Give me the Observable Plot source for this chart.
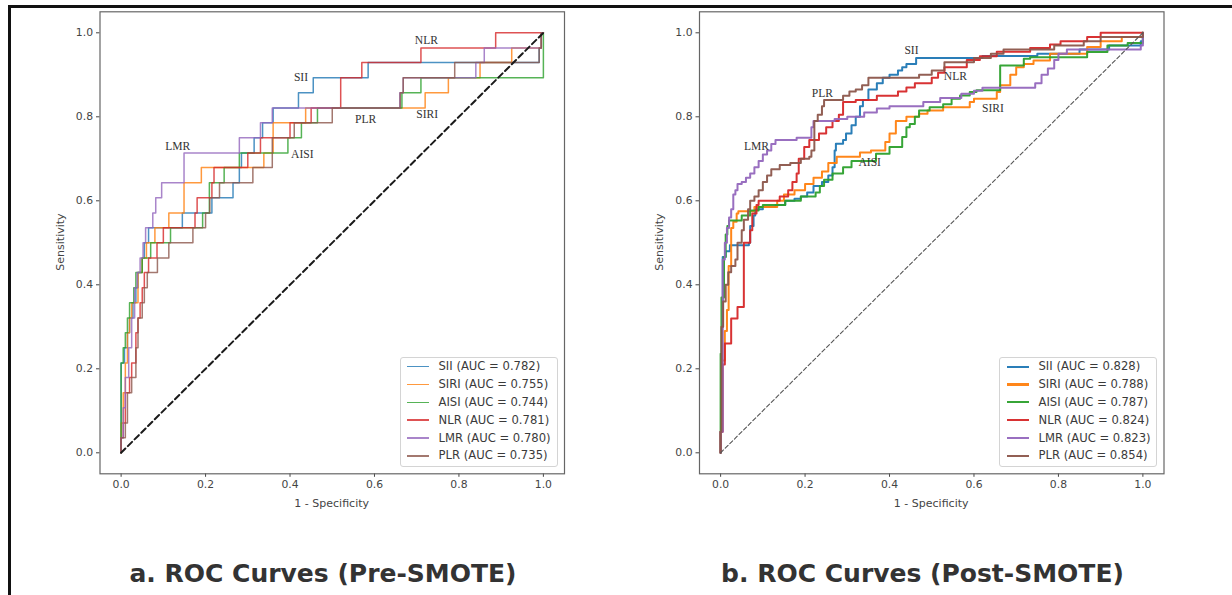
<!DOCTYPE html>
<html>
<head>
<meta charset="utf-8">
<script src="https://cdn.jsdelivr.net/npm/d3@7"></script>
<script src="https://cdn.jsdelivr.net/npm/@observablehq/plot@0.6"></script>
<style>
html, body { margin: 0; padding: 0; background: #fff; }
#root { position: relative; width: 1232px; height: 595px; overflow: hidden; background: #fff; font-family: "DejaVu Sans", sans-serif; }
.panel { position: absolute; top: 0; }
.bline { position: absolute; background: #111; }
.title { position: absolute; font: bold 25px "DejaVu Sans", sans-serif; color: #333; white-space: nowrap; transform: translate(-50%, -50%); line-height: 25px; }
.xlabel { position: absolute; font-size: 11px; color: #444; white-space: nowrap; transform: translate(-50%, -50%); line-height: 13px; }
.ylabel { position: absolute; font-size: 11px; color: #444; white-space: nowrap; transform: translate(-50%, -50%) rotate(-90deg); line-height: 13px; }
.legend { position: absolute; box-sizing: border-box; border: 1px solid #d4d4d4; border-radius: 3px; background: rgba(255,255,255,0.85); }
.legend .sw { position: absolute; }
.legend .lt { position: absolute; font-size: 11.6px; color: #3a3a3a; white-space: nowrap; line-height: 14px; }
</style>
</head>
<body>
<div id="root"></div>
<script>
// ---------- data ----------
const series = ["SII", "SIRI", "AISI", "NLR", "LMR", "PLR"];
const colors = ["#1f77b4", "#ff7f0e", "#2ca02c", "#d62728", "#9467bd", "#8c564b"];
const aucPre  = ["0.782", "0.755", "0.744", "0.781", "0.780", "0.735"];
const aucPost = ["0.828", "0.788", "0.787", "0.824", "0.823", "0.854"];
const tickValues = [0, 0.2, 0.4, 0.6, 0.8, 1.0];
const chance = [0, 1];

// Pre-SMOTE ROC points (1 - specificity, sensitivity)
const preSII_fpr  = [0,0,0.008,0.015,0.02,0.028,0.035,0.04,0.05,0.055,0.065,0.145,0.215,0.265,0.28,0.285,0.315,0.335,0.36,0.42,0.455,0.585,0.99,0.995,1];
const preSII_tpr  = [0,0.214,0.25,0.286,0.321,0.357,0.393,0.429,0.464,0.5,0.536,0.571,0.607,0.643,0.679,0.714,0.75,0.786,0.821,0.857,0.893,0.929,0.964,1,1];
const preSIRI_fpr = [0,0,0.005,0.01,0.015,0.02,0.025,0.04,0.05,0.06,0.08,0.113,0.149,0.19,0.338,0.36,0.437,0.72,0.775,0.85,0.925,0.995,1];
const preSIRI_tpr = [0,0.071,0.143,0.214,0.286,0.321,0.357,0.429,0.464,0.5,0.536,0.571,0.643,0.679,0.714,0.786,0.821,0.857,0.893,0.929,0.964,1,1];
const preAISI_fpr = [0,0,0.005,0.01,0.015,0.02,0.03,0.035,0.05,0.07,0.117,0.193,0.209,0.244,0.28,0.395,0.427,0.465,0.665,0.71,1,1];
const preAISI_tpr = [0,0.214,0.25,0.286,0.321,0.357,0.393,0.429,0.464,0.5,0.536,0.571,0.643,0.679,0.714,0.75,0.786,0.821,0.857,0.893,0.893,1];
const preNLR_fpr  = [0,0,0.005,0.01,0.02,0.025,0.035,0.04,0.045,0.05,0.055,0.065,0.085,0.1,0.175,0.18,0.215,0.22,0.3,0.33,0.4,0.45,0.52,0.57,0.71,0.887,1];
const preNLR_tpr  = [0,0.036,0.071,0.143,0.179,0.214,0.286,0.321,0.357,0.393,0.429,0.464,0.5,0.536,0.571,0.607,0.643,0.679,0.714,0.75,0.786,0.821,0.893,0.929,0.964,1,1];
const preLMR_fpr  = [0,0,0.005,0.01,0.018,0.025,0.032,0.038,0.045,0.052,0.058,0.075,0.082,0.096,0.149,0.28,0.33,0.358,0.66,0.668,0.84,0.86,0.995,1];
const preLMR_tpr  = [0,0.036,0.107,0.179,0.25,0.321,0.393,0.429,0.464,0.5,0.536,0.571,0.607,0.643,0.714,0.75,0.786,0.821,0.857,0.893,0.929,0.964,1,1];
const prePLR_fpr  = [0,0,0.01,0.015,0.025,0.035,0.04,0.05,0.055,0.062,0.086,0.113,0.17,0.2,0.21,0.233,0.312,0.358,0.41,0.5,0.661,0.668,0.79,0.99,0.995,1];
const prePLR_tpr  = [0,0.036,0.071,0.143,0.179,0.25,0.321,0.357,0.393,0.429,0.464,0.5,0.536,0.571,0.607,0.643,0.679,0.75,0.786,0.821,0.857,0.893,0.929,0.964,1,1];

// Post-SMOTE ROC points
const postSII_fpr  = [0,0,0.003,0.005,0.012,0.022,0.067,0.07,0.078,0.082,0.1,0.13,0.153,0.175,0.19,0.205,0.22,0.24,0.255,0.265,0.27,0.273,0.29,0.297,0.31,0.32,0.33,0.337,0.35,0.37,0.384,0.4,0.42,0.43,0.44,0.463,0.62,0.75,0.85,0.92,0.995,1];
const postSII_tpr  = [0,0.05,0.3,0.466,0.48,0.494,0.5,0.54,0.565,0.58,0.585,0.59,0.6,0.605,0.61,0.62,0.635,0.645,0.66,0.68,0.72,0.736,0.745,0.76,0.78,0.8,0.825,0.84,0.865,0.88,0.893,0.9,0.91,0.918,0.926,0.94,0.945,0.95,0.96,0.97,0.98,1];
const postSIRI_fpr = [0,0,0.003,0.01,0.015,0.019,0.025,0.03,0.038,0.042,0.08,0.134,0.15,0.175,0.2,0.22,0.24,0.255,0.275,0.33,0.356,0.39,0.4,0.415,0.44,0.47,0.49,0.527,0.59,0.6,0.654,0.662,0.686,0.7,0.718,0.741,0.78,0.868,0.9,0.95,1];
const postSIRI_tpr = [0,0.05,0.22,0.29,0.34,0.445,0.535,0.55,0.57,0.575,0.585,0.6,0.615,0.625,0.64,0.655,0.67,0.69,0.705,0.715,0.72,0.74,0.76,0.79,0.8,0.807,0.815,0.823,0.835,0.843,0.859,0.875,0.9,0.918,0.926,0.934,0.95,0.966,0.98,0.99,1];
const postAISI_fpr = [0,0,0.002,0.008,0.012,0.016,0.02,0.05,0.07,0.09,0.1,0.153,0.19,0.225,0.235,0.245,0.265,0.29,0.31,0.368,0.4,0.43,0.44,0.448,0.46,0.47,0.495,0.527,0.547,0.567,0.59,0.606,0.662,0.718,0.733,0.868,0.916,0.964,1];
const postAISI_tpr = [0,0.236,0.37,0.466,0.52,0.54,0.553,0.565,0.577,0.585,0.59,0.6,0.61,0.62,0.635,0.65,0.665,0.68,0.695,0.712,0.728,0.752,0.775,0.783,0.8,0.815,0.823,0.83,0.843,0.851,0.859,0.863,0.922,0.938,0.942,0.954,0.97,0.976,1];
const postNLR_fpr  = [0,0,0.005,0.01,0.025,0.04,0.055,0.07,0.075,0.085,0.09,0.14,0.16,0.17,0.18,0.185,0.198,0.21,0.233,0.25,0.265,0.28,0.29,0.32,0.37,0.42,0.44,0.46,0.5,0.515,0.53,0.583,0.614,0.654,0.733,0.78,0.805,0.868,0.9,1];
const postNLR_tpr  = [0,0.05,0.21,0.26,0.32,0.347,0.5,0.53,0.57,0.59,0.6,0.61,0.625,0.645,0.665,0.7,0.728,0.745,0.76,0.775,0.79,0.805,0.835,0.84,0.85,0.86,0.87,0.88,0.893,0.905,0.918,0.935,0.944,0.955,0.964,0.972,0.98,0.99,1,1];
const postLMR_fpr  = [0,0,0.005,0.01,0.015,0.02,0.025,0.03,0.035,0.04,0.05,0.06,0.07,0.08,0.09,0.1,0.11,0.12,0.13,0.18,0.215,0.22,0.27,0.3,0.34,0.37,0.4,0.48,0.52,0.57,0.6,0.62,0.745,0.76,0.775,0.79,0.8,0.82,0.995,1];
const postLMR_tpr  = [0,0.05,0.46,0.5,0.535,0.56,0.58,0.615,0.625,0.64,0.645,0.655,0.665,0.68,0.695,0.71,0.72,0.735,0.745,0.75,0.775,0.79,0.795,0.8,0.81,0.82,0.825,0.835,0.845,0.855,0.862,0.869,0.88,0.9,0.915,0.935,0.95,0.96,0.97,1];
const postPLR_fpr  = [0,0,0.002,0.006,0.012,0.018,0.025,0.035,0.04,0.05,0.055,0.065,0.07,0.08,0.09,0.1,0.11,0.12,0.14,0.165,0.19,0.21,0.215,0.222,0.23,0.24,0.245,0.29,0.305,0.32,0.335,0.35,0.47,0.5,0.53,0.6,0.64,0.67,0.79,0.86,0.9,1];
const postPLR_tpr  = [0,0.05,0.3,0.36,0.4,0.43,0.445,0.46,0.5,0.53,0.555,0.58,0.6,0.61,0.625,0.645,0.66,0.675,0.685,0.69,0.7,0.705,0.72,0.79,0.805,0.825,0.84,0.85,0.86,0.865,0.875,0.893,0.9,0.91,0.93,0.94,0.95,0.96,0.97,0.98,0.99,1];

// curve annotations
const annPreLabels = ["NLR", "SII", "LMR", "AISI", "PLR", "SIRI"];
const annPreX = [0.723, 0.426, 0.134, 0.429, 0.579, 0.725];
const annPreY = [0.982, 0.894, 0.729, 0.71, 0.795, 0.807];
const annPostLabels = ["SII", "NLR", "PLR", "LMR", "AISI", "SIRI"];
const annPostX = [0.452, 0.556, 0.241, 0.085, 0.353, 0.645];
const annPostY = [0.958, 0.896, 0.856, 0.729, 0.692, 0.82];

const panelTitles = ["a. ROC Curves (Pre-SMOTE)", "b. ROC Curves (Post-SMOTE)"];
const xLabel = "1 - Specificity";
const yLabel = "Sensitivity";

// ---------- build ----------
const preCurves = [
  [preSII_fpr, preSII_tpr], [preSIRI_fpr, preSIRI_tpr], [preAISI_fpr, preAISI_tpr],
  [preNLR_fpr, preNLR_tpr], [preLMR_fpr, preLMR_tpr], [prePLR_fpr, prePLR_tpr]
];
const postCurves = [
  [postSII_fpr, postSII_tpr], [postSIRI_fpr, postSIRI_tpr], [postAISI_fpr, postAISI_tpr],
  [postNLR_fpr, postNLR_tpr], [postLMR_fpr, postLMR_tpr], [postPLR_fpr, postPLR_tpr]
];

const root = document.getElementById("root");

function el(cls, style, text) {
  const d = document.createElement("div");
  d.className = cls;
  Object.assign(d.style, style);
  if (text != null) d.textContent = text;
  root.appendChild(d);
  return d;
}

function makePanel(curves, labels, ax, ay, o) {
  const rows = [];
  series.forEach((s, i) => {
    const [fx, ty] = curves[i];
    fx.forEach((x, j) => rows.push({s, x, y: ty[j]}));
  });
  const annRows = labels.map((t, i) => ({t, x: ax[i], y: ay[i]}));
  const chanceRows = chance.map(v => ({x: v, y: v}));
  const fmt = d => d.toFixed(1);
  const chart = Plot.plot({
    width: o.width,
    height: 530,
    marginLeft: o.ml,
    marginRight: o.mr,
    marginTop: 11.3,
    marginBottom: 56.7,
    style: {background: "transparent", fontFamily: "DejaVu Sans", fontSize: "10.8px", color: "#444", overflow: "visible"},
    x: {domain: [-0.05, 1.05], ticks: tickValues, tickFormat: fmt, tickSize: 3.5, tickPadding: 3.5, label: null},
    y: {domain: [-0.05, 1.05], ticks: tickValues, tickFormat: fmt, tickSize: 3.5, tickPadding: 3.5, label: null},
    color: {domain: series, range: colors},
    marks: [
      Plot.line(rows, {x: "x", y: "y", z: "s", stroke: "s", curve: "step-after", strokeWidth: o.lw, strokeOpacity: o.op}),
      Plot.line(chanceRows, {x: "x", y: "y", stroke: o.dc, strokeWidth: o.dw, strokeDasharray: o.dash}),
      Plot.text(annRows, {x: "x", y: "y", text: "t", fontFamily: "Liberation Serif", fontSize: 11.6, fill: "#333"}),
      Plot.frame({stroke: "#666", strokeWidth: 1.2})
    ]
  });
  const wrap = el("panel", {left: o.left + "px", width: o.width + "px", height: "530px"});
  wrap.appendChild(chart);
}

makePanel(preCurves, annPreLabels, annPreX, annPreY,
  {left: 0, width: 620, ml: 99.5, mr: 56, lw: 1.5, op: 0.8, dc: "#1a1a1a", dw: 2, dash: "6,3.5"});
makePanel(postCurves, annPostLabels, annPostX, annPostY,
  {left: 620, width: 612, ml: 79, mr: 68.5, lw: 2, op: 0.95, dc: "#555", dw: 1.1, dash: "4,2.5"});

// axis labels
[[331.7, 931.2]].forEach(() => {});
el("xlabel", {left: "331.7px", top: "503px"}, xLabel);
el("xlabel", {left: "931.2px", top: "503px"}, xLabel);
el("ylabel", {left: "60px", top: "242.3px"}, yLabel);
el("ylabel", {left: "659px", top: "242.3px"}, yLabel);

// legends
function legend(left, auc, sw, lw, op) {
  const box = el("legend", {left: left + "px", top: "356.5px", width: "158px", height: "110.5px"});
  series.forEach((s, i) => {
    const cy = 9.2 + 17.85 * i;
    const line = document.createElement("div");
    line.className = "sw";
    Object.assign(line.style, {left: sw + "px", top: (cy - lw / 2) + "px", width: "22px", height: lw + "px", background: colors[i], opacity: op});
    box.appendChild(line);
    const t = document.createElement("div");
    t.className = "lt";
    Object.assign(t.style, {left: (sw + 32) + "px", top: (cy - 7.5) + "px"});
    t.textContent = s + " (AUC = " + auc[i] + ")";
    box.appendChild(t);
  });
}
legend(399.5, aucPre, 6, 1.6, 0.8);
legend(999, aucPost, 6.5, 2.2, 0.95);

// titles
el("title", {left: "323px", top: "573px"}, panelTitles[0]);
el("title", {left: "922.5px", top: "573px"}, panelTitles[1]);

// outer frame lines
el("bline", {left: "8px", top: "5px", width: "1224px", height: "2.5px"});
el("bline", {left: "8px", top: "5px", width: "2.5px", height: "590px"});
</script>
</body>
</html>
